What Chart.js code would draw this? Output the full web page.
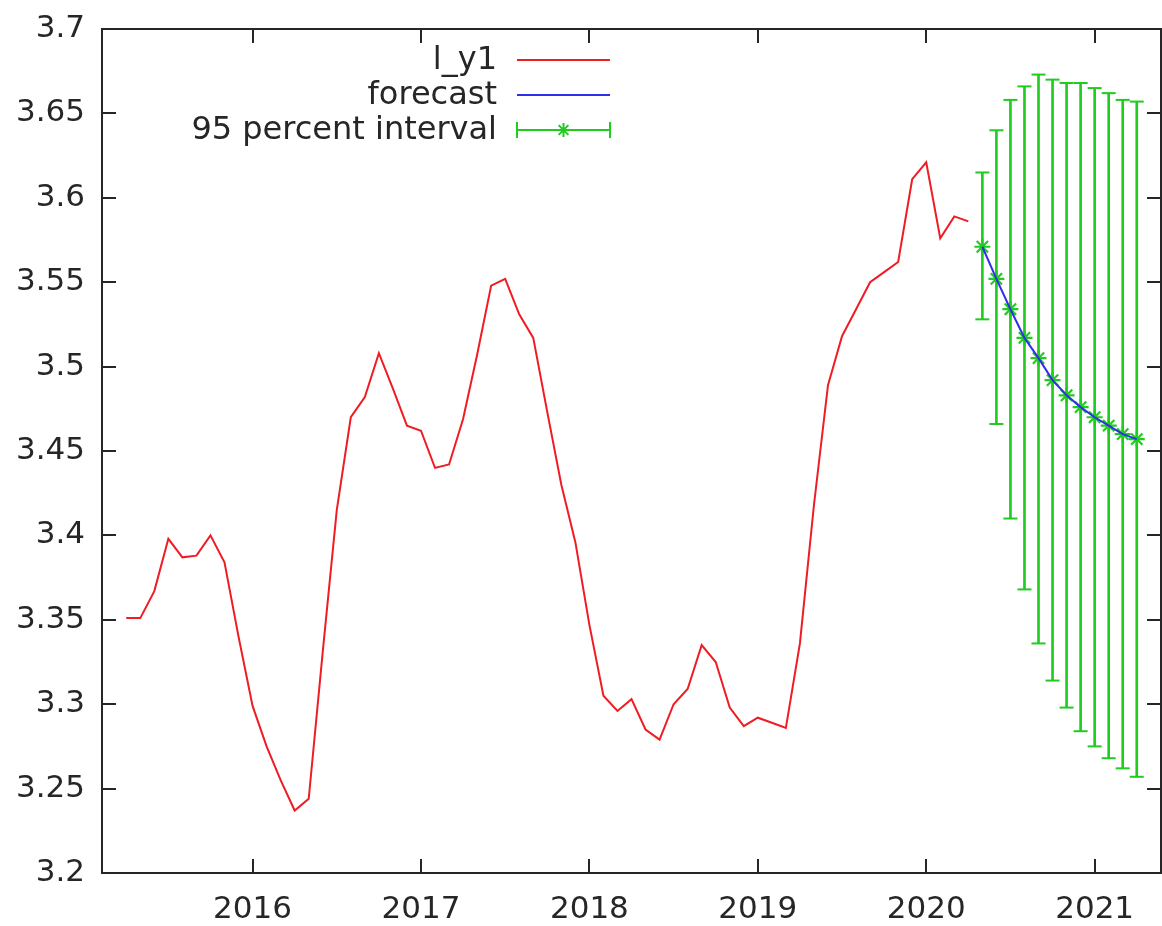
<!DOCTYPE html>
<html>
<head>
<meta charset="utf-8">
<script src="https://cdn.jsdelivr.net/npm/chart.js@4.4.1/dist/chart.umd.min.js"></script>
<style>
  html, body { margin: 0; padding: 0; background: #fff; overflow: hidden; }
  #wrap { width: 1162px; height: 926px; position: relative; }
</style>
</head>
<body>
<div id="wrap"><canvas id="fcChart"></canvas></div>
<script>
// monthly observations, 2015:04 .. 2020:04
const histStart = "2015:04";
const histValues = [
  3.351, 3.351, 3.367, 3.398, 3.387, 3.388, 3.400, 3.384, 3.340, 3.299,
  3.275, 3.255, 3.237, 3.244, 3.331, 3.415, 3.470, 3.482, 3.508, 3.487,
  3.465, 3.462, 3.440, 3.442, 3.469, 3.507, 3.548, 3.552, 3.531, 3.517,
  3.473, 3.430, 3.396, 3.347, 3.305, 3.296, 3.303, 3.285, 3.279, 3.300,
  3.309, 3.335, 3.325, 3.298, 3.287, 3.292, 3.289, 3.286, 3.336, 3.418,
  3.489, 3.518, 3.534, 3.550, 3.556, 3.562, 3.611, 3.621, 3.576, 3.589,
  3.586
];

// forecast, 2020:05 .. 2021:04
const fcStart = "2020:05";
const fcValues = [3.571, 3.552, 3.534, 3.517, 3.505, 3.492, 3.483, 3.476, 3.470, 3.465, 3.460, 3.457];
const fcLower  = [3.528, 3.466, 3.410, 3.368, 3.336, 3.314, 3.298, 3.284, 3.275, 3.268, 3.262, 3.257];
const fcUpper  = [3.615, 3.640, 3.658, 3.666, 3.673, 3.670, 3.668, 3.668, 3.665, 3.662, 3.658, 3.657];

const xTicks = [2016, 2017, 2018, 2019, 2020, 2021];
const yTicks = [3.2, 3.25, 3.3, 3.35, 3.4, 3.45, 3.5, 3.55, 3.6, 3.65, 3.7];
const legendLabels = ["l_y1", "forecast", "95 percent interval"];

const RED = "#f01c24";
const BLUE = "#2f2fe8";
const GREEN = "#1fcc1f";
const INK = "#262626";
const FONT = '"DejaVu Sans", Verdana, sans-serif';

// "2015:04" -> decimal year used by the x axis
function monthToYear(label, offset) {
  let parts = label.split(":");
  let idx = (+parts[0]) * 12 + (+parts[1] - 1) + offset;
  return Math.floor(idx / 12) + (idx % 12) / 12;
}

const histPoints = histValues.map((v, i) => ({ x: monthToYear(histStart, i), y: v }));
const fcPoints = fcValues.map((v, i) => ({ x: monthToYear(fcStart, i), y: v }));
const barPoints = fcValues.map((v, i) => ({ x: monthToYear(fcStart, i), y: [fcLower[i], fcUpper[i]] }));
const capPoints = fcValues.flatMap((v, i) => [
  { x: monthToYear(fcStart, i), y: fcLower[i] },
  { x: monthToYear(fcStart, i), y: fcUpper[i] }
]);

// gnuplot style frame with inward ticks on all four sides
const framePlugin = {
  id: "frame",
  afterDraw(chart) {
    const { ctx, chartArea: a, scales } = chart;
    const tick = 14;
    ctx.save();
    ctx.strokeStyle = INK;
    ctx.lineWidth = 2;
    ctx.strokeRect(a.left, a.top, a.right - a.left, a.bottom - a.top);
    ctx.beginPath();
    yTicks.forEach(v => {
      let y = Math.round(scales.y.getPixelForValue(v));
      ctx.moveTo(a.left, y); ctx.lineTo(a.left + tick, y);
      ctx.moveTo(a.right, y); ctx.lineTo(a.right - tick, y);
    });
    xTicks.forEach(v => {
      let x = Math.round(scales.x.getPixelForValue(v));
      ctx.moveTo(x, a.bottom); ctx.lineTo(x, a.bottom - tick);
      ctx.moveTo(x, a.top); ctx.lineTo(x, a.top + tick);
    });
    ctx.stroke();
    ctx.restore();
  }
};

// key in the gnuplot layout: right aligned text, sample to the right
const keyPlugin = {
  id: "key",
  afterDraw(chart) {
    const ctx = chart.ctx;
    const textRight = 497, x0 = 517, x1 = 610;
    const rows = [60, 95, 130];
    ctx.save();
    ctx.font = "32px " + FONT;
    ctx.fillStyle = INK;
    ctx.textAlign = "right";
    ctx.textBaseline = "middle";
    legendLabels.forEach((t, i) => ctx.fillText(t, textRight, rows[i] + 1));
    ctx.lineWidth = 2;
    ctx.strokeStyle = RED;
    ctx.beginPath(); ctx.moveTo(x0, rows[0]); ctx.lineTo(x1, rows[0]); ctx.stroke();
    ctx.strokeStyle = BLUE;
    ctx.beginPath(); ctx.moveTo(x0, rows[1]); ctx.lineTo(x1, rows[1]); ctx.stroke();
    ctx.strokeStyle = GREEN;
    ctx.beginPath();
    ctx.moveTo(x0, rows[2]); ctx.lineTo(x1, rows[2]);
    ctx.moveTo(x0, rows[2] - 8); ctx.lineTo(x0, rows[2] + 8);
    ctx.moveTo(x1, rows[2] - 8); ctx.lineTo(x1, rows[2] + 8);
    ctx.stroke();
    let cx = (x0 + x1) / 2, cy = rows[2], r = 7;
    ctx.beginPath();
    ctx.moveTo(cx - r, cy); ctx.lineTo(cx + r, cy);
    ctx.moveTo(cx, cy - r); ctx.lineTo(cx, cy + r);
    ctx.moveTo(cx - r * 0.7, cy - r * 0.7); ctx.lineTo(cx + r * 0.7, cy + r * 0.7);
    ctx.moveTo(cx - r * 0.7, cy + r * 0.7); ctx.lineTo(cx + r * 0.7, cy - r * 0.7);
    ctx.stroke();
    ctx.restore();
  }
};

// keep the plot frame exactly where the reference has it
function fixBox(size) {
  return s => {
    if (s.isHorizontal()) s.height = size; else s.width = size;
    s.paddingTop = 0; s.paddingBottom = 0;
    s.paddingLeft = 0; s.paddingRight = 0;
  };
}

const fcChart = new Chart(document.getElementById("fcChart").getContext("2d"), {
  type: "line",
  data: {
    datasets: [
      {
        label: legendLabels[0],
        data: histPoints,
        borderColor: RED,
        borderWidth: 2,
        pointRadius: 0,
        tension: 0
      },
      {
        label: legendLabels[1],
        data: fcPoints,
        borderColor: BLUE,
        borderWidth: 2,
        pointRadius: 0,
        tension: 0
      },
      {
        type: "bar",
        label: legendLabels[2],
        data: barPoints,
        backgroundColor: GREEN,
        barThickness: 2,
        grouped: false
      },
      {
        label: "caps",
        data: capPoints,
        showLine: false,
        pointStyle: "line",
        pointRadius: 7,
        borderColor: GREEN,
        borderWidth: 2
      },
      {
        label: "stars",
        data: fcPoints,
        showLine: false,
        pointStyle: "star",
        pointRadius: 8,
        borderColor: GREEN,
        backgroundColor: GREEN,
        borderWidth: 2.2
      }
    ]
  },
  options: {
    responsive: true,
    maintainAspectRatio: false,
    animation: false,
    layout: { autoPadding: false, padding: { top: 29, right: 1, left: 0, bottom: 0 } },
    plugins: {
      legend: { display: false },
      tooltip: { enabled: false }
    },
    scales: {
      x: {
        type: "linear",
        min: 2015.106,
        max: 2021.394,
        offset: false,
        grid: { display: false, drawTicks: false },
        border: { display: false },
        afterBuildTicks: s => { s.ticks = xTicks.map(v => ({ value: v })); },
        afterFit: fixBox(53),
        ticks: {
          color: INK,
          padding: 18,
          maxRotation: 0,
          font: { family: FONT, size: 31 },
          callback: v => String(v)
        }
      },
      y: {
        type: "linear",
        min: 3.2,
        max: 3.7,
        grid: { display: false, drawTicks: false },
        border: { display: false },
        afterBuildTicks: s => { s.ticks = yTicks.map(v => ({ value: v })); },
        afterFit: fixBox(102),
        ticks: {
          color: INK,
          padding: 17,
          font: { family: FONT, size: 31 },
          callback: v => String(+(+v).toFixed(2))
        }
      }
    }
  },
  plugins: [framePlugin, keyPlugin]
});
</script>
</body>
</html>
